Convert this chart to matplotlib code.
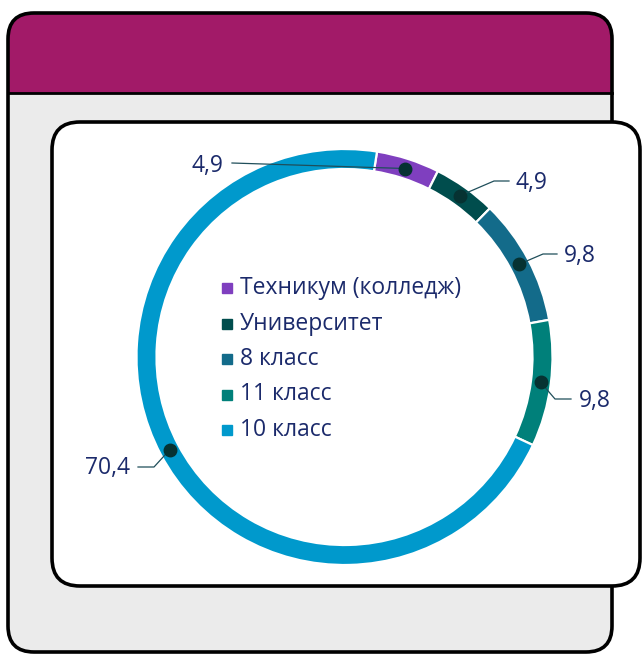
import numpy as np
import matplotlib
matplotlib.use("Agg")
import matplotlib.pyplot as plt
from matplotlib.patches import FancyBboxPatch, Rectangle

# ── данные ───────────────────────────────────────────────────────────────────
categories = ["Техникум (колледж)", "Университет", "8 класс", "11 класс", "10 класс"]
values = [4.9, 4.9, 9.8, 9.8, 70.4]
value_labels = ["4,9", "4,9", "9,8", "9,8", "70,4"]
colors = ["#7F3FBF", "#004D4D", "#136B8A", "#00807A", "#0099CC"]

W, H = 642, 655
TXT = "#1B2A6B"
plt.rcParams["font.family"] = ["Open Sans", "DejaVu Sans"]

fig = plt.figure(figsize=(W / 100, H / 100), dpi=100)
ax = fig.add_axes([0, 0, 1, 1])


def P(x, y):
    """пиксели картинки (y вниз) -> координаты осей"""
    return (x, H - y)


# ── рамки ────────────────────────────────────────────────────────────────────
box = dict(boxstyle="round,pad=0,rounding_size=26")
ax.add_patch(FancyBboxPatch(P(8, 652), 604, 639, fc="#EBEBEB", ec="none", zorder=0, **box))
head = FancyBboxPatch(P(8, 652), 604, 639, fc="#A21A68", ec="none", zorder=1, **box)
ax.add_patch(head)
head.set_clip_path(Rectangle(P(0, 93), W, 93, transform=ax.transData))
ax.add_patch(FancyBboxPatch(P(8, 652), 604, 639, fc="none", ec="black", lw=2.6, zorder=2, **box))
ax.plot([8, 612], [H - 93, H - 93], color="black", lw=2.0, zorder=2)
ax.add_patch(FancyBboxPatch(P(52, 586), 588, 464, boxstyle="round,pad=0,rounding_size=28",
                            fc="white", ec="black", lw=2.6, zorder=3))

# ── кольцо ───────────────────────────────────────────────────────────────────
cx, cy = P(344.5, 357)
R, RW = 208, 20
wedges, _ = ax.pie(values, colors=colors, startangle=81, counterclock=False,
                   center=(cx, cy), radius=R,
                   wedgeprops=dict(width=RW, edgecolor="white", linewidth=1.6))
for w in wedges:
    w.set_zorder(4)

# подписи: (излом, конец линии, позиция текста, выравнивание) в пикселях
leaders = [
    (None, (232, 163), (223, 166), "right"),
    ((494, 181), (509, 181), (516, 183), "left"),
    ((543, 254), (557, 254), (564, 256), "left"),
    ((555, 399), (571, 399), (579, 401), "left"),
    ((154, 467), (138, 467), (130, 468), "right"),
]
for w, lab, (elb, end, tp, ha) in zip(wedges, value_labels, leaders):
    a = np.deg2rad((w.theta1 + w.theta2) / 2)
    dx, dy = cx + (R - RW / 2) * np.cos(a), cy + (R - RW / 2) * np.sin(a)
    pts = [(dx, dy)] + ([P(*elb)] if elb else []) + [P(*end)]
    ax.plot([p[0] for p in pts], [p[1] for p in pts], color="#1F4E5A", lw=0.9, zorder=5)
    ax.plot(dx, dy, "o", ms=9, color="#063232", zorder=6)
    ax.text(*P(*tp), lab, ha=ha, va="center", fontsize=16.5, color=TXT, zorder=6)

# ── легенда ──────────────────────────────────────────────────────────────────
for i, (c, name) in enumerate(zip(colors, categories)):
    y = 288 + i * 35.5
    ax.plot(*P(227, y), "s", ms=7.5, color=c, zorder=6)
    ax.text(*P(240, y), name, ha="left", va="center", fontsize=16.5, color=TXT, zorder=6)

ax.set_xlim(0, W)
ax.set_ylim(0, H)
ax.set_aspect("auto")
ax.axis("off")
fig.savefig("out.png", dpi=100, facecolor="white")
